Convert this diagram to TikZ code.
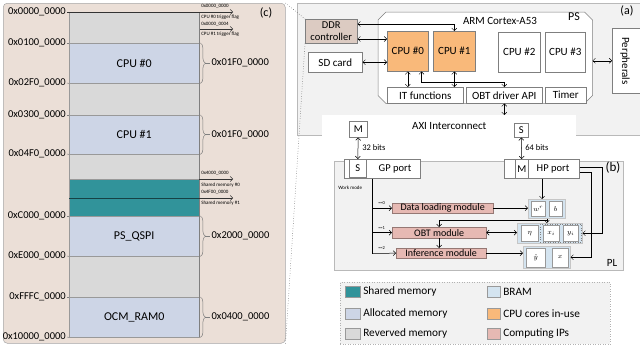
\documentclass[tikz,border=0pt]{standalone}
\usepackage{fontspec}
\setmainfont{Carlito}
\usetikzlibrary{arrows.meta,calc,decorations.pathreplacing,shadows}
\definecolor{pcbg}{HTML}{EBDFD7}
\definecolor{memgray}{HTML}{D9D9D9}
\definecolor{memblue}{HTML}{CDD5E6}
\definecolor{tealc}{HTML}{31939A}
\definecolor{cpuorg}{HTML}{F9B97A}
\definecolor{ippink}{HTML}{E6B9B3}
\definecolor{ddrc}{HTML}{DCCBC2}
\definecolor{panelg}{HTML}{F2F2F2}
\definecolor{bram}{HTML}{D4E4F0}
\definecolor{edge}{HTML}{7F7F7F}
\newcommand{\fs}[1]{\fontsize{#1}{#1}\selectfont}
\begin{document}
\begin{tikzpicture}[x=1pt,y=-1pt,
  >={Straight Barb[length=2.5pt,width=5pt]}, line width=0.5pt,
  box/.style={draw=edge, fill=white, inner sep=0pt, anchor=north west, font=\fs{11}},
  shd/.style={drop shadow={shadow xshift=1.2pt,shadow yshift=-1.2pt,fill=gray!45}},
  mem/.style={draw=edge!80, line width=0.4pt, inner sep=0pt, anchor=north west, minimum width=130pt, font=\fs{12}},
  addr/.style={anchor=east, inner sep=1pt, font=\fs{10.5}},
  tiny/.style={anchor=west, inner sep=0pt, font=\fs{5}},
  brc/.style={edge, decorate, decoration={brace, amplitude=5pt}},
  ip/.style={draw=ippink!65!black, line width=0.3pt, fill=ippink, inner sep=0pt, anchor=north west, font=\fs{10}},
  grp/.style={draw=gray!45, fill=bram, inner sep=0pt, anchor=north west},
  cell/.style={draw=edge!80, fill=white, inner sep=0pt, anchor=north west, font=\fs{7}},
  sw/.style={draw=edge!80, inner sep=0pt, anchor=north west, minimum width=15pt, minimum height=11pt},
  lt/.style={anchor=west, inner sep=0pt, font=\fs{11.3}}]
\useasboundingbox (0,0) rectangle (640,348);

% ---------------- panel (c)
\node[draw=gray!70, fill=pcbg, rounded corners=4pt, inner sep=0pt, anchor=north west,
      minimum width=282pt, minimum height=340pt] (pc) at (3,3) {};
\node[font=\fs{12}] (lc) at (266,13) {(c)};

\node[mem, fill=memgray, minimum height=31pt] (r0) at (69,12) {};
\node[mem, fill=memblue, minimum height=40pt] (m0) at (69,43) {CPU \#0};
\node[mem, fill=memgray, minimum height=32pt] (r1) at (69,83) {};
\node[mem, fill=memblue, minimum height=39pt] (m1) at (69,115) {CPU \#1};
\node[mem, fill=memgray, minimum height=25pt] (r2) at (69,154) {};
\node[mem, fill=tealc, minimum height=19pt] (s0) at (69,179) {};
\node[mem, fill=tealc, minimum height=18pt] (s1) at (69,198) {};
\node[mem, fill=memblue, minimum height=40pt] (qs) at (69,216) {PS\_QSPI};
\node[mem, fill=memgray, minimum height=41pt] (r3) at (69,256) {};
\node[mem, fill=memblue, minimum height=40pt] (oc) at (69,297) {OCM\_RAM0};
\draw[edge, line width=1.2pt] (r0.north east) -- (oc.south east);
\draw[tealc!45!black, line width=0.8pt] (s1.north west) -- (s1.north east);

\node[addr] (a0) at (67,12) {0x0000\_0000};
\node[addr] (a1) at (67,43) {0x0100\_0000};
\node[addr] (a2) at (67,83) {0x02F0\_0000};
\node[addr] (a3) at (67,115) {0x0300\_0000};
\node[addr] (a4) at (67,154) {0x04F0\_0000};
\node[addr] (a5) at (67,216) {0xC000\_0000};
\node[addr] (a6) at (67,256) {0xE000\_0000};
\node[addr] (a7) at (67,297) {0xFFFC\_0000};
\node[addr] (a8) at (67,337) {0x10000\_0000};
\draw[edge] (a1.east) -- (m0.north west);
\draw[edge] (a2.east) -- (m0.south west);
\draw[edge] (a3.east) -- (m1.north west);
\draw[edge] (a4.east) -- (m1.south west);
\draw[edge] (a5.east) -- (qs.north west);
\draw[edge] (a6.east) -- (qs.south west);
\draw[edge] (a7.east) -- (oc.north west);
\draw[edge] (a8.east) -- (oc.south west);

% trigger flags
\coordinate (t0) at (233,12);
\coordinate (t1s) at (200,29);
\coordinate (t1) at (233,29);
\draw[->, edge!40!black] (a0.east) -- (t0);
\draw[->, edge!40!black] (t1s) -- (t1);
\node[tiny] (f0a) at (201,6) {0x0000\_0000};
\node[tiny] (f0b) at (201,17) {CPU \#0 trigger flag};
\node[tiny] (f1a) at (201,24) {0x0000\_0004};
\node[tiny] (f1b) at (201,34) {CPU \#1 trigger flag};

% shared memory
\coordinate (u0) at (233,179);
\coordinate (u1) at (233,198);
\draw[->, edge!40!black] (s0.north east) -- (u0);
\draw[->, edge!40!black] (s1.north east) -- (u1);
\node[tiny] (h0a) at (201,173) {0x4000\_0000};
\node[tiny] (h0b) at (201,185) {Shared memory \#0};
\node[tiny] (h1a) at (201,192) {0x4F00\_0000};
\node[tiny] (h1b) at (201,203) {Shared memory \#1};

% braces
\draw[brc] ([xshift=1pt]m0.north east) -- ([xshift=1pt]m0.south east);
\draw[brc] ([xshift=1pt]m1.north east) -- ([xshift=1pt]m1.south east);
\draw[brc] ([xshift=1pt]qs.north east) -- ([xshift=1pt]qs.south east);
\draw[brc] ([xshift=1pt]oc.north east) -- ([xshift=1pt]oc.south east);
\coordinate (bt0) at ($(m0.east)+(6,0)$);
\coordinate (bt1) at ($(m1.east)+(6,0)$);
\coordinate (bt2) at ($(qs.east)+(6,0)$);
\coordinate (bt3) at ($(oc.east)+(6,0)$);
\node[addr, anchor=west] (z0) at ($(m0.east)+(11,0)$) {0x01F0\_0000};
\node[addr, anchor=west] (z1) at ($(m1.east)+(11,0)$) {0x01F0\_0000};
\node[addr, anchor=west] (z2) at ($(qs.east)+(11,0)$) {0x2000\_0000};
\node[addr, anchor=west] (z3) at ($(oc.east)+(11,0)$) {0x0400\_0000};
\draw[edge] (bt0) -- (z0.west);
\draw[edge] (bt1) -- (z1.west);
\draw[edge] (bt2) -- (z2.west);
\draw[edge] (bt3) -- (z3.west);

% ---------------- panel (a)
\node[draw=gray!55, fill=panelg, inner sep=0pt, anchor=north west,
      minimum width=345pt, minimum height=132pt] (pa) at (297,3) {};
\node[font=\fs{12}] (la) at (627,11) {(a)};

\node[inner sep=0pt, anchor=north west, minimum width=214pt, minimum height=91pt] (arm) at (378,12) {};
\draw[edge, fill=white] ($(arm.north west)+(8,0)$) -- ($(arm.north east)+(-8,0)$)
  -- ($(arm.north east)+(0,8)$) -- ($(arm.south east)+(0,-8)$) -- ($(arm.south east)+(-8,0)$)
  -- ($(arm.south west)+(8,0)$) -- ($(arm.south west)+(0,-8)$) -- ($(arm.north west)+(0,8)$) -- cycle;
\node[font=\fs{11}] (armt) at (500,21) {ARM Cortex-A53};
\node[font=\fs{12}] (ps) at (574,17) {PS};

\node[box, shd, fill=cpuorg, minimum width=41pt, minimum height=40pt] (c0) at (387,31) {CPU \#0};
\node[box, shd, fill=cpuorg, minimum width=42pt, minimum height=40pt] (c1) at (433,31) {CPU \#1};
\node[box, shd, minimum width=42pt, minimum height=40pt] (c2) at (498,32) {CPU \#2};
\node[box, shd, minimum width=40pt, minimum height=40pt] (c3) at (545,32) {CPU \#3};
\node[box, shd, minimum width=76pt, minimum height=16pt] (itf) at (387,87) {IT functions};
\node[box, shd, minimum width=76pt, minimum height=16pt] (obt) at (466,87) {OBT driver API};
\node[box, shd, minimum width=41pt, minimum height=16pt] (tim) at (545,87) {Timer};
\node[box, fill=ddrc, minimum width=52pt, minimum height=24pt, align=center, font=\fontsize{10.5}{11.5}\selectfont] (ddr) at (305,19) {DDR\\controller};
\node[box, shd, minimum width=54pt, minimum height=20pt] (sd) at (308,52) {SD card};
\node[box, minimum width=30pt, minimum height=65pt] (per) at (612,28) {};
\node[rotate=-90, font=\fs{11}, inner sep=0pt] (pert) at (625,61) {Perpherals};

\draw[<->] ($(ddr.north east)+(0,5)$) -| (c1.north);
\draw[<->] ($(ddr.north east)+(0,20)$) -- ($(c0.north west)+(0,8)$);
\draw[<->] (sd.east) -- (c0.west |- sd.east);
\draw[<->] (c0.south) -- (c0.south |- itf.north);
\draw[<->] ($(c0.south east)+(-7,0)$) -- ++(0,11) -| (obt.north);
\draw[<->] (c1.south) -- (c1.south |- itf.north);
\draw[<->] (per.west) -- (per.west -| arm.east);

% AXI
\node[fill=white, inner sep=0pt, anchor=north west, minimum width=254pt, minimum height=22pt, font=\fs{11}] (axi) at (322,115) {AXI Interconnect};
\draw[<->] (obt.south) -- (obt.south |- axi.north);

% ---------------- panel (b)
\node[draw=gray!55, fill=panelg, inner sep=0pt, anchor=north west,
      minimum width=289pt, minimum height=109pt] (pb) at (334,161) {};
\node[font=\fs{13}] (lb) at (613,168) {(b)};
\node[font=\fs{11}] (lpl) at (612,263) {PL};

\node[box, minimum width=76pt, minimum height=19pt] (gp) at (344,159) {};
\node[box, minimum width=17pt, minimum height=18pt, font=\fs{10.5}] (sgp) at (349,159) {S};
\node[font=\fs{10.5}] (gpt) at (395,168.5) {GP port};
\node[box, minimum width=18pt, minimum height=16pt, font=\fs{10.5}] (mgp) at (349,121) {M};
\draw[<->] (mgp.south) -- (sgp.north);
\node[anchor=west, inner sep=0pt, font=\fs{8.5}] (b32) at (362,148) {32 bits};

\node[box, minimum width=75pt, minimum height=19pt] (hp) at (504,159) {};
\node[box, minimum width=13pt, minimum height=19pt, font=\fs{10.5}] (mhp) at (515,159) {M};
\node[font=\fs{10.5}] (hpt) at (553,168.5) {HP port};
\node[box, minimum width=14pt, minimum height=14pt, font=\fs{10.5}] (shp) at (514,123) {S};
\draw[<->] (shp.south) -- (mhp.north);
\node[anchor=west, inner sep=0pt, font=\fs{8.5}] (b64) at (525,148) {64 bits};

\node[anchor=west, inner sep=0pt, font=\fs{5}] (wm) at (338,188) {Work mode};

\node[ip, minimum width=101pt, minimum height=10pt] (dl) at (392,203) {Data loading module};
\node[ip, minimum width=94pt, minimum height=11pt] (om) at (392,227) {OBT module};
\node[ip, minimum width=90pt, minimum height=10pt] (inf) at (396,248) {Inference module};

\coordinate (wtop) at ($(gp.south west)+(28,0)$);
\coordinate (wbot) at ($(gp.south west)+(28,75)$);
\draw (wtop) -- (wbot);
\draw[->] (wtop |- dl.west) -- (dl.west);
\draw[->] (wtop |- om.west) -- (om.west);
\draw[->] (wbot) -- (inf.west);
\node[tiny, font=\fs{4.5}] (e0) at (378,203) {==0};
\node[tiny, font=\fs{4.5}] (e1) at (378,228) {==1};
\node[tiny, font=\fs{4.5}] (e2) at (378,248) {==2};

% BRAM groups
\node[grp, minimum width=37pt, minimum height=19pt] (g1) at (528,199) {};
\node[cell, minimum width=14pt, minimum height=15pt] (cw) at (531,201) {$w^r$};
\node[cell, minimum width=13pt, minimum height=15pt] (cb) at (549,201) {$b$};
\node[grp, minimum width=65pt, minimum height=20pt] (g2) at (517,223) {};
\node[draw=edge, dotted, inner sep=0pt, anchor=north west, minimum width=41pt, minimum height=18pt] (g2s) at (540,224) {};
\node[cell, minimum width=17pt, minimum height=16pt] (ce) at (521,225) {$\eta$};
\node[cell, minimum width=16pt, minimum height=16pt] (cx) at (543,225) {$x_i$};
\node[cell, minimum width=15pt, minimum height=16pt] (cy) at (563,225) {$y_i$};
\node[grp, minimum width=47pt, minimum height=22pt] (g3) at (523,246) {};
\node[cell, minimum width=19pt, minimum height=19pt] (cyh) at (526,247.5) {$\hat{y}$};
\node[cell, minimum width=16pt, minimum height=19pt] (cxx) at (552,247.5) {$x$};

\coordinate (g1in) at ($(g1.north west)+(14,0)$);
\draw[->] (g1in |- hp.south) -- (g1in);
\draw[->] (dl.east) -- (dl.east -| g1.west);
\draw[->] (g1.south) -- (g1.south |- g2.north);
\draw[->] ($(g1.south)+(0,1.5)$) -| (om.north);
\draw[<->] (om.east) -- (om.east -| g2.west);
\draw[->] (om.south) -- (om.south |- inf.north);
\draw[->] (inf.east) -- (inf.east -| g3.west);
\draw[->] ($(hp.north east)+(0,8)$) -- ++(23,0) |- (g2.east);
\draw[->] ($(hp.north east)+(0,13)$) -- ++(12,0) |- (g3.east);

% zoom lines
\draw[dotted, edge!60!black] (pc.north east) -- (ddr.north west);
\draw[dotted, edge!60!black] (pc.south east) -- (ddr.south west);

% ---------------- legend
\node[draw=gray!60, dotted, fill=panelg, inner sep=0pt, anchor=north west,
      minimum width=270pt, minimum height=62pt] (lg) at (340,282) {};
\node[sw, fill=tealc] (k1) at (345,286) {};
\node[sw, fill=memblue] (k2) at (345,308) {};
\node[sw, fill=memgray] (k3) at (345,328) {};
\node[sw, fill=bram, minimum width=13pt] (k4) at (487,286) {};
\node[sw, fill=cpuorg, minimum width=13pt] (k5) at (487,308) {};
\node[sw, fill=ippink, minimum width=13pt] (k6) at (487,328) {};
\node[lt] (k1t) at (363,291.5) {Shared memory};
\node[lt] (k2t) at (363,313.5) {Allocated memory};
\node[lt] (k3t) at (363,333.5) {Reverved memory};
\node[lt] (k4t) at (503,291.5) {BRAM};
\node[lt] (k5t) at (503,313.5) {CPU cores in-use};
\node[lt] (k6t) at (503,333.5) {Computing IPs};
\end{tikzpicture}
\end{document}
